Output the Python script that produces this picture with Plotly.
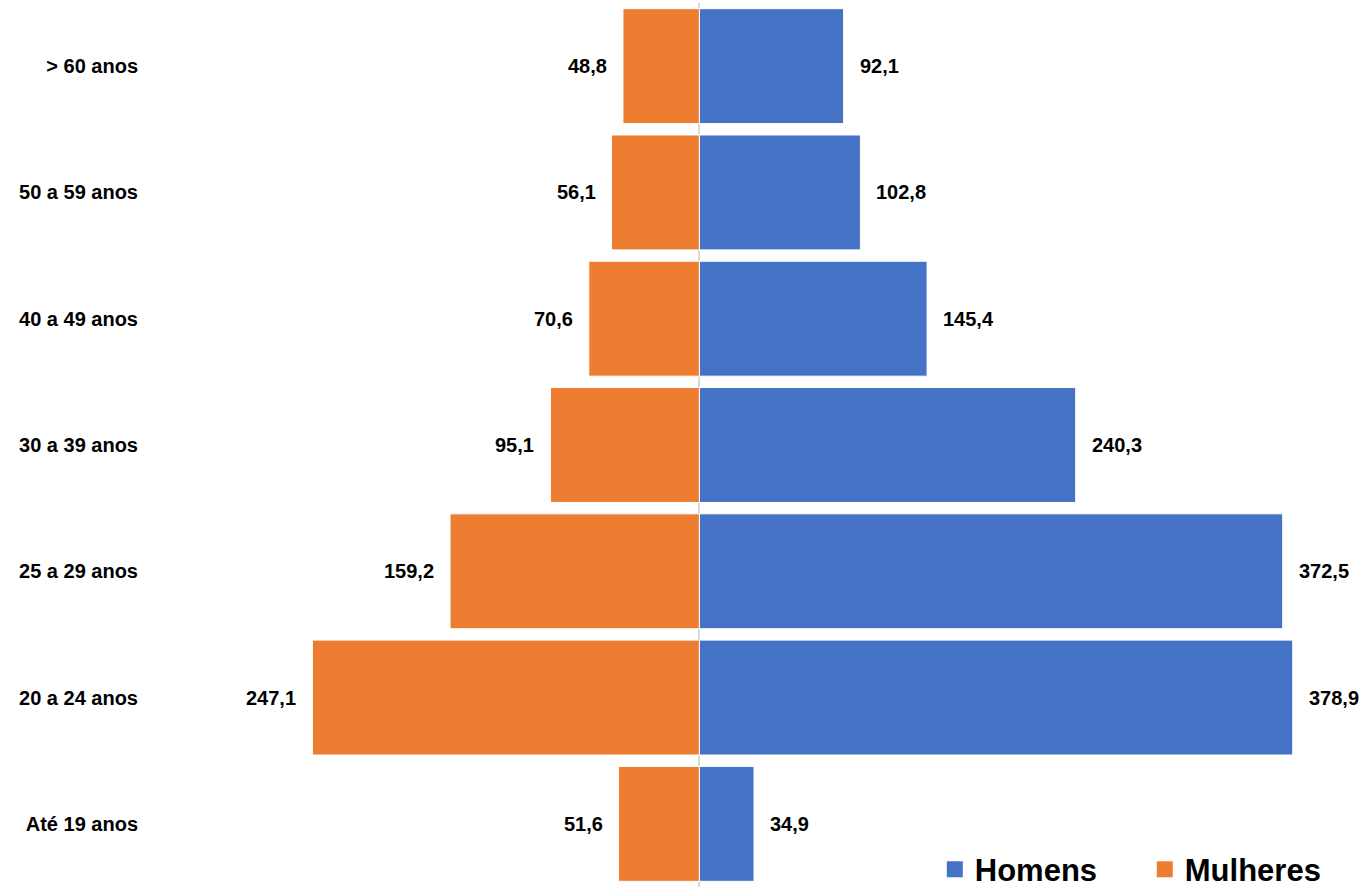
import plotly.graph_objects as go

categorias = ["Até 19 anos", "20 a 24 anos", "25 a 29 anos", "30 a 39 anos",
              "40 a 49 anos", "50 a 59 anos", "> 60 anos"]
homens = [34.9, 378.9, 372.5, 240.3, 145.4, 102.8, 92.1]
mulheres = [51.6, 247.1, 159.2, 95.1, 70.6, 56.1, 48.8]

AZUL = "#4472C4"
LARANJA = "#ED7D31"
FONTE = "Liberation Sans"

def fmt(v):
    return f"{v:.1f}".replace(".", ",")

fig = go.Figure()
fig.add_trace(go.Bar(y=categorias, x=homens, orientation="h", width=0.91,
                     marker=dict(color=AZUL, line=dict(color="white", width=1)),
                     name="Homens", showlegend=False, hoverinfo="skip"))
fig.add_trace(go.Bar(y=categorias, x=[-v for v in mulheres], orientation="h", width=0.91,
                     marker=dict(color=LARANJA, line=dict(color="white", width=1)),
                     name="Mulheres", showlegend=False, hoverinfo="skip"))
# legend entries
fig.add_trace(go.Scatter(x=[None], y=[None], mode="markers", name="Homens",
                         marker=dict(symbol="square", size=20, color=AZUL)))
fig.add_trace(go.Scatter(x=[None], y=[None], mode="markers", name="Mulheres",
                         marker=dict(symbol="square", size=20, color=LARANJA)))

for c, h, m in zip(categorias, homens, mulheres):
    fig.add_annotation(x=h, y=c, text=fmt(h), showarrow=False, xanchor="left",
                       xshift=14, font=dict(family=FONTE, size=20, color="black", weight="bold"))
    fig.add_annotation(x=-m, y=c, text=fmt(m), showarrow=False, xanchor="right",
                       xshift=-14, font=dict(family=FONTE, size=20, color="black", weight="bold"))

fig.update_layout(
    width=1366, height=887,
    margin=dict(l=145, r=10, t=3, b=0, autoexpand=False),
    barmode="overlay",
    plot_bgcolor="white", paper_bgcolor="white",
    font=dict(family=FONTE, color="black"),
    xaxis=dict(range=[-354, 419.3], showgrid=False, showticklabels=False,
               zeroline=True, zerolinecolor="#d9d9d9", zerolinewidth=2, fixedrange=True),
    yaxis=dict(categoryorder="array", categoryarray=categorias, showgrid=False,
               range=[-0.5, 6.5], ticks="", ticklabelstandoff=6,
               tickfont=dict(family=FONTE, size=20, color="black", weight="bold")),
    legend=dict(orientation="h", x=0.999, xanchor="right", y=-0.011, yanchor="bottom",
                font=dict(family=FONTE, size=31, color="black", weight="bold"),
                bgcolor="rgba(0,0,0,0)", entrywidth=165),
    showlegend=True,
)

fig.write_html("out.html")
